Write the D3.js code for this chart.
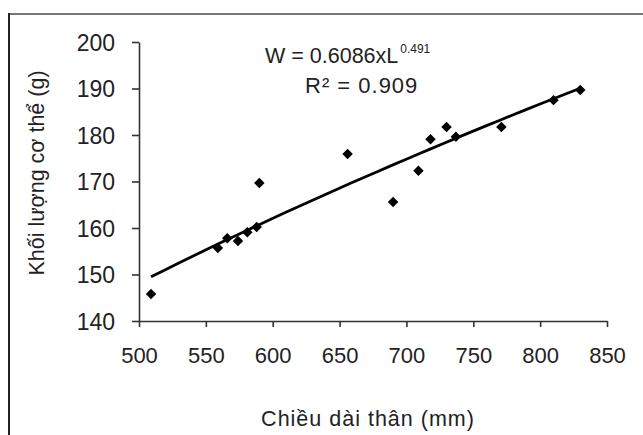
<!DOCTYPE html>
<html>
<head>
<meta charset="utf-8">
<script src="https://cdn.jsdelivr.net/npm/d3@7"></script>
<style>
  body { margin: 0; background: #fff; }
  text { font-family: "Liberation Sans", Arial, sans-serif; fill: #222; }
</style>
</head>
<body>
<script>
// * Data
const lengthMm = [509, 559, 566, 574, 581, 588, 590, 656, 690, 709, 718, 730, 737, 771, 810, 830];
const weightG = [145.8, 155.7, 157.8, 157.2, 159.1, 160.2, 169.7, 175.9, 165.6, 172.3, 179.1, 181.7, 179.6, 181.7, 187.5, 189.7];
const xTicks = [500, 550, 600, 650, 700, 750, 800, 850];
const yTicks = [140, 150, 160, 170, 180, 190, 200];
// trend line: power fit, start/end and exponent
const trendRange = [509, 830];
const trendStartW = 149.5;
const trendExp = 0.491;

// * Size
const width = 643;
const height = 435;
const margin = { left: 139, right: 36, top: 42, bottom: 114 };

const svg = d3.select("body").append("svg")
  .attr("width", width)
  .attr("height", height);

// frame
svg.append("line").attr("x1", 9).attr("x2", width).attr("y1", 14).attr("y2", 14)
  .attr("stroke", "#777").attr("stroke-width", 2);
svg.append("line").attr("x1", 9).attr("x2", 9).attr("y1", 13).attr("y2", height)
  .attr("stroke", "#222").attr("stroke-width", 2);

// * Scales
const x = d3.scaleLinear().domain([500, 850]).range([margin.left, width - margin.right]);
const y = d3.scaleLinear().domain([140, 200]).range([height - margin.bottom, margin.top]);

// * Axes
const xAxis = svg.append("g")
  .attr("transform", `translate(0,${y(140)})`)
  .call(d3.axisBottom(x).tickValues(xTicks).tickSize(6).tickPadding(20).tickSizeOuter(0));
const yAxis = svg.append("g")
  .attr("transform", `translate(${x(500)},0)`)
  .call(d3.axisLeft(y).tickValues(yTicks).tickSize(7).tickPadding(17).tickSizeOuter(0));

[xAxis, yAxis].forEach((g) => {
  g.select(".domain").attr("stroke", "#333").attr("stroke-width", 1.6);
  g.selectAll(".tick line").attr("stroke", "#333").attr("stroke-width", 1.6);
  g.selectAll(".tick text")
    .attr("font-size", "22px")
    .attr("fill", "#222")
    .style("font-family", "Liberation Sans, Arial, sans-serif");
});
yAxis.selectAll(".tick text").attr("dy", "0.36em").attr("font-size", "23px");

// * Trend line
const a = trendStartW / Math.pow(trendRange[0], trendExp);
const trendX = d3.range(trendRange[0], trendRange[1] + 1, 10).concat([trendRange[1]]);
svg.append("path")
  .datum(trendX)
  .attr("fill", "none")
  .attr("stroke", "#000")
  .attr("stroke-width", 2.8)
  .attr("d", d3.line().x((d) => x(d)).y((d) => y(a * Math.pow(d, trendExp))));

// * Points
svg.selectAll(".pt")
  .data(lengthMm)
  .join("path")
  .attr("class", "pt")
  .attr("transform", (d, i) => `translate(${x(d)},${y(weightG[i])})`)
  .attr("d", d3.symbol().type(d3.symbolDiamond2).size(70))
  .attr("fill", "#000");

// * Equation
const eq = svg.append("text").attr("x", 265).attr("y", 63).attr("font-size", "21.5px");
eq.append("tspan").text("W = 0.6086xL");
eq.append("tspan").attr("font-size", "12px").attr("dy", -10).attr("dx", 2).text("0.491");
svg.append("text").attr("x", 305).attr("y", 93).attr("font-size", "22px")
  .attr("letter-spacing", "1px").text("R² = 0.909");

// * Axis titles
svg.append("text")
  .attr("x", 368).attr("y", 426)
  .attr("text-anchor", "middle")
  .attr("font-size", "21.5px")
  .attr("letter-spacing", "1px")
  .text("Chiều dài thân (mm)");
svg.append("text")
  .attr("transform", `translate(44,${173}) rotate(-90)`)
  .attr("text-anchor", "middle")
  .attr("font-size", "21.5px")
  .text("Khối lượng cơ thể (g)");
</script>
</body>
</html>
